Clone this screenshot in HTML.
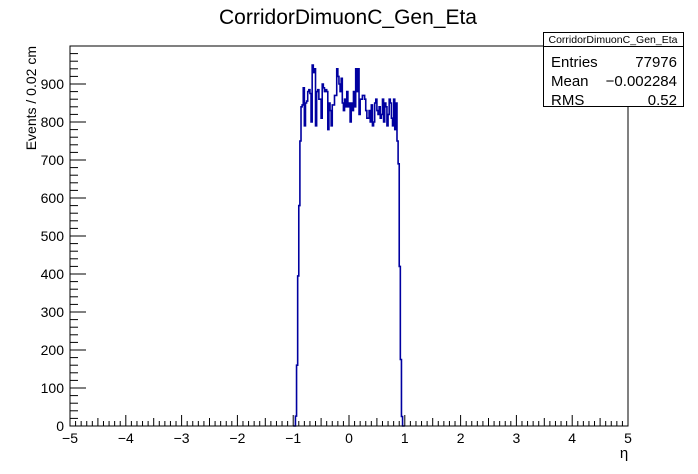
<!DOCTYPE html>
<html><head><meta charset="utf-8"><style>
body{margin:0;background:#fff;}
svg{display:block;font-family:"Liberation Sans",sans-serif;}
</style></head><body>
<svg id="c" width="698" height="474"></svg>
<script>
const binLow=-1.0, binWidth=0.02;
const counts=[0,0,26,160,395,580,750,
840,845,890,790,850,855,880,885,875,800,
950,930,940,790,880,885,860,860,810,900,
890,880,885,880,780,850,830,790,845,845,
870,870,940,920,900,880,915,850,830,860,
840,880,840,850,800,850,830,880,840,940,
880,940,820,860,860,870,870,860,830,810,
810,830,800,845,790,800,850,860,830,820,
840,810,820,860,800,850,840,790,820,860,
850,810,790,860,780,850,
750,690,420,175,25,0,0];
const xTicks=[-5,-4,-3,-2,-1,0,1,2,3,4,5];
const yTicks=[0,100,200,300,400,500,600,700,800,900];
const statLabels=["Entries","Mean","RMS"];
const statValues=["77976","\u22120.002284","0.52"];

const NS="http://www.w3.org/2000/svg";
const svg=document.getElementById('c');
const L=70,R=628,T=46,B=426;
const X=v=>L+(v+5)/10*(R-L);
const Y=v=>B-v*0.38;
function mk(t,a,p){const e=document.createElementNS(NS,t);for(const k in a)e.setAttribute(k,a[k]);(p||svg).appendChild(e);return e;}
let e;
// histogram
let d='M'+X(binLow)+','+Y(0);
counts.forEach((c,i)=>{const a=X(binLow+i*binWidth),b=X(binLow+(i+1)*binWidth);d+=' L'+a+','+Y(c)+' L'+b+','+Y(c);});
e=mk('path',{d:d,fill:'none',stroke:'#0000a0','stroke-width':1.6});


e=mk('rect',{x:L,y:T,width:R-L,height:B-T,fill:'none',stroke:'#000','stroke-width':1});


// x ticks
const xa=mk('g',{});


for(let i=0;i<=100;i++){const v=-5+i*0.1;const len=i%10==0?11:(i%5==0?8:5);mk('line',{x1:X(v),x2:X(v),y1:B,y2:B-len,stroke:'#000'},xa);}
xTicks.forEach(v=>{const t=mk('text',{x:X(v),y:B+17,'font-size':14,'text-anchor':'middle'},xa);t.textContent=v<0?'\u2212'+(-v):v;

});
// y ticks
const ya=mk('g',{});


for(let v=0;v<=980;v+=20){const len=v%100==0?16:8;mk('line',{x1:L,x2:L+len,y1:Y(v),y2:Y(v),stroke:'#000'},ya);}
yTicks.forEach(v=>{const t=mk('text',{x:L-6,y:Y(v)+5,'font-size':14,'text-anchor':'end'},ya);t.textContent=v;

});
// titles
e=mk('text',{x:348,y:24,'font-size':21,'text-anchor':'middle'});e.textContent='CorridorDimuonC_Gen_Eta';


e=mk('text',{x:624,y:458,'font-size':15,'text-anchor':'middle'});e.textContent='η';


e=mk('text',{x:0,y:0,'font-size':14,'text-anchor':'end',transform:'translate(36,46) rotate(-90)'});e.textContent='Events / 0.02 cm';


// stats box
const sb=mk('g',{});


mk('rect',{x:543.5,y:32.5,width:140,height:74,fill:'#fff',stroke:'#000'},sb);
mk('line',{x1:543.5,x2:683.5,y1:46.5,y2:46.5,stroke:'#000'},sb);
e=mk('text',{x:613,y:43,'font-size':10.5,'text-anchor':'middle'},sb);e.textContent='CorridorDimuonC_Gen_Eta';
statLabels.forEach((s,i)=>{const yy=67+i*19;
const a=mk('text',{x:551,y:yy,'font-size':15},sb);a.textContent=s;


const b=mk('text',{x:677,y:yy,'font-size':15,'text-anchor':'end'},sb);b.textContent=statValues[i];

});
</script>
</body></html>
